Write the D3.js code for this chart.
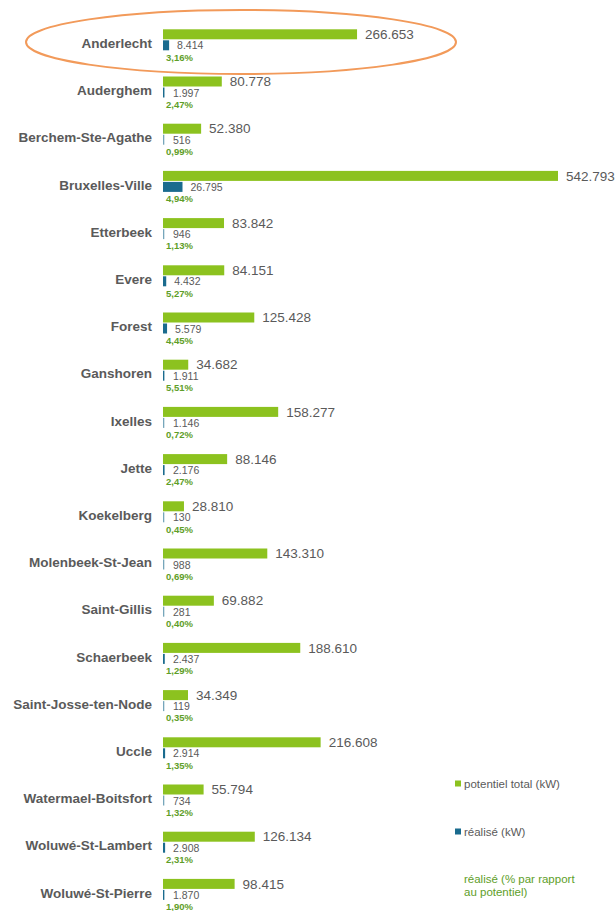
<!DOCTYPE html>
<html>
<head>
<meta charset="utf-8">
<script src="https://cdn.jsdelivr.net/npm/d3@7"></script>
<style>
  html, body { margin: 0; padding: 0; background: #fff; }
  text { font-family: "Liberation Sans", Arial, sans-serif; }
</style>
</head>
<body>
<div id="chart"></div>
<script>
// data (kW)
const communes = [
  'Anderlecht', 'Auderghem', 'Berchem-Ste-Agathe', 'Bruxelles-Ville', 'Etterbeek',
  'Evere', 'Forest', 'Ganshoren', 'Ixelles', 'Jette', 'Koekelberg',
  'Molenbeek-St-Jean', 'Saint-Gillis', 'Schaerbeek', 'Saint-Josse-ten-Node',
  'Uccle', 'Watermael-Boitsfort', 'Woluwé-St-Lambert', 'Woluwé-St-Pierre'
];
const potentiel = [
  266653, 80778, 52380, 542793, 83842, 84151, 125428, 34682, 158277, 88146, 28810,
  143310, 69882, 188610, 34349, 216608, 55794, 126134, 98415
];
const realise = [
  8414, 1997, 516, 26795, 946, 4432, 5579, 1911, 1146, 2176, 130,
  988, 281, 2437, 119, 2914, 734, 2908, 1870
];
const pourcent = [
  3.16, 2.47, 0.99, 4.94, 1.13, 5.27, 4.45, 5.51, 0.72, 2.47, 0.45,
  0.69, 0.40, 1.29, 0.35, 1.35, 1.32, 2.31, 1.90
];
const legendLabels = ['potentiel total (kW)', 'réalisé (kW)', ['réalisé (% par rapport', 'au potentiel)']];

const rows = communes.map((c, i) => ({ name: c, pot: potentiel[i], real: realise[i], pct: pourcent[i] }));

const W = 616, H = 911;
const green = '#8cc21f', blue = '#1a6b8e', pctGreen = '#5e9e28', grey = '#5a5a5a';

const svg = d3.select('#chart').append('svg')
  .attr('width', W).attr('height', H);

// scales
const x = d3.scaleLinear().domain([0, 542793]).range([163, 558]);
const y = d3.scaleBand().domain(communes).range([29.3, 29.3 + 47.2 * communes.length]);

// format belge : 266.653 / 3,16%
const fr = d3.formatLocale({ decimal: ',', thousands: '.', grouping: [3], currency: ['', '€'] });
const fmtInt = fr.format(',d');
const fmtPct = v => fr.format('.2f')(v) + '%';

const g = svg.selectAll('g.row').data(rows).enter().append('g').attr('class', 'row')
  .attr('transform', d => `translate(0,${y(d.name)})`);

// potentiel bar
g.append('rect')
  .attr('x', x(0)).attr('y', 0)
  .attr('width', d => x(d.pot) - x(0)).attr('height', 10)
  .attr('fill', green);

g.append('text')
  .attr('x', d => x(d.pot) + 8).attr('y', 5)
  .attr('dy', '0.35em')
  .attr('font-size', 13.5).attr('fill', grey)
  .text(d => fmtInt(d.pot));

// réalisé bar
g.append('rect')
  .attr('x', x(0)).attr('y', 11)
  .attr('width', d => Math.max(x(d.real) - x(0), 1.3)).attr('height', 10)
  .attr('fill', blue)
  .attr('opacity', d => x(d.real) - x(0) < 1 ? 0.6 : 1);

g.append('text')
  .attr('x', d => Math.max(x(d.real), x(0) + 2) + 8).attr('y', 16.5)
  .attr('dy', '0.35em')
  .attr('font-size', 10.5).attr('fill', grey)
  .text(d => fmtInt(d.real));

// pourcentage
g.append('text')
  .attr('x', x(0) + 3).attr('y', 28)
  .attr('dy', '0.35em')
  .attr('font-size', 9.5).attr('font-weight', 'bold').attr('fill', pctGreen)
  .text(d => fmtPct(d.pct));

// commune label
g.append('text')
  .attr('x', 152).attr('y', 14)
  .attr('dy', '0.35em')
  .attr('text-anchor', 'end')
  .attr('font-size', 13.5).attr('font-weight', 'bold').attr('fill', grey)
  .text(d => d.name);

// highlight ellipse
svg.append('ellipse')
  .attr('cx', 241).attr('cy', 42).attr('rx', 215).attr('ry', 32)
  .attr('fill', 'none').attr('stroke', '#f29a5a').attr('stroke-width', 2);

// legend
const lg = svg.append('g').attr('transform', 'translate(455,0)');
lg.append('rect').attr('x', 0).attr('y', 780.5).attr('width', 6).attr('height', 6).attr('fill', green);
lg.append('text').attr('x', 9).attr('y', 784).attr('dy', '0.35em')
  .attr('font-size', 11.5).attr('fill', grey).text(legendLabels[0]);
lg.append('rect').attr('x', 0).attr('y', 828.5).attr('width', 6).attr('height', 6).attr('fill', blue);
lg.append('text').attr('x', 9).attr('y', 832).attr('dy', '0.35em')
  .attr('font-size', 11.5).attr('fill', grey).text(legendLabels[1]);
lg.append('text').attr('x', 9).attr('y', 879)
  .attr('font-size', 11.5).attr('fill', pctGreen)
  .selectAll('tspan').data(legendLabels[2]).enter().append('tspan')
  .attr('x', 9).attr('dy', (d, i) => i === 0 ? '0.35em' : '1.1em')
  .text(d => d);
</script>
</body>
</html>
